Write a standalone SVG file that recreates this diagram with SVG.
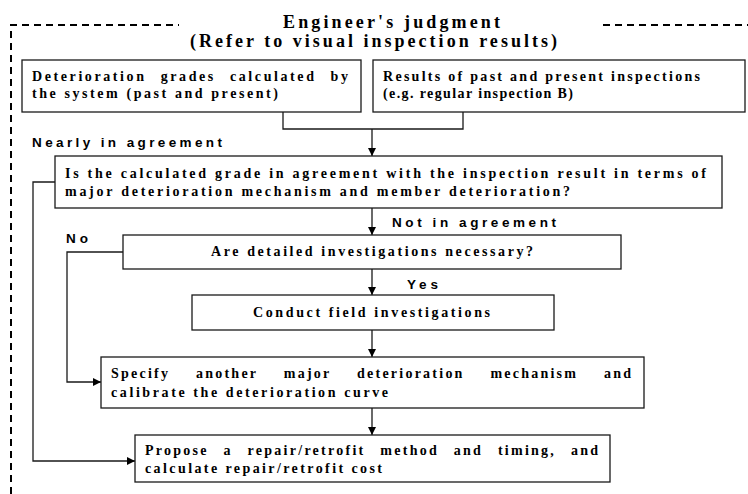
<svg xmlns="http://www.w3.org/2000/svg" width="748" height="494" viewBox="0 0 748 494">
<defs>
<style>
.box{fill:#fff;stroke:#1a1a1a;stroke-width:1.3}
.bt{font-family:"Liberation Serif","Times New Roman",serif;font-weight:bold;font-size:14px;fill:#000}
.tt{font-family:"Liberation Serif","Times New Roman",serif;font-weight:bold;font-size:18px;fill:#000}
.lb{font-family:"Liberation Sans",Arial,sans-serif;font-weight:bold;font-size:13.5px;fill:#000}
.cn{fill:none;stroke:#1a1a1a;stroke-width:1.3}
.dash{fill:none;stroke:#000;stroke-width:2;stroke-dasharray:7 5}
</style>
<marker id="ah" markerWidth="8" markerHeight="8" refX="8" refY="4" orient="auto" markerUnits="userSpaceOnUse"><path d="M0,0 L8,4 L0,8 z" fill="#000"/></marker>
</defs>
<rect width="748" height="494" fill="#fff"/>
<g id="frame">
<path class="dash" d="M11,494 V25 H179"/>
<path class="dash" d="M603,25 H748"/>
<text class="tt" x="283" y="28" textLength="217" lengthAdjust="spacing">Engineer's judgment</text>
<text class="tt" x="190" y="47" textLength="367" lengthAdjust="spacing">(Refer to visual inspection results)</text>
</g>
<g id="connectors">
<path class="cn" d="M283,112 V129 H463 V112"/>
<path class="cn" d="M372,129 V156" marker-end="url(#ah)"/>
<path class="cn" d="M372,208 V235" marker-end="url(#ah)"/>
<path class="cn" d="M372,269 V295" marker-end="url(#ah)"/>
<path class="cn" d="M372,330 V357" marker-end="url(#ah)"/>
<path class="cn" d="M372,408 V435" marker-end="url(#ah)"/>
<path class="cn" d="M123,252 H67 V382 H101" marker-end="url(#ah)"/>
<path class="cn" d="M55,182 H33 V461 H135" marker-end="url(#ah)"/>
<text class="lb" x="32" y="147" textLength="190" lengthAdjust="spacing">Nearly in agreement</text>
<text class="lb" x="392" y="227" textLength="164" lengthAdjust="spacing">Not in agreement</text>
<text class="lb" x="66" y="243" textLength="22" lengthAdjust="spacing">No</text>
<text class="lb" x="407" y="289" textLength="31" lengthAdjust="spacing">Yes</text>
</g>
<g id="n1">
<rect class="box" x="22" y="60" width="339" height="52"/>
<text class="bt" x="32" y="81" textLength="316" lengthAdjust="spacing" word-spacing="8">Deterioration grades calculated by</text>
<text class="bt" x="32" y="98" textLength="246" lengthAdjust="spacing">the system (past and present)</text>
</g>
<g id="n2">
<rect class="box" x="373" y="60" width="372" height="52"/>
<text class="bt" x="383" y="81" textLength="317" lengthAdjust="spacing">Results of past and present inspections</text>
<text class="bt" x="383" y="98" textLength="190" lengthAdjust="spacing">(e.g. regular inspection B)</text>
</g>
<g id="n3">
<rect class="box" x="55" y="156" width="667" height="52"/>
<text class="bt" x="65" y="178" textLength="641" lengthAdjust="spacing">Is the calculated grade in agreement with the inspection result in terms of</text>
<text class="bt" x="65" y="196" textLength="505" lengthAdjust="spacing">major deterioration mechanism and member deterioration?</text>
</g>
<g id="n4">
<rect class="box" x="123" y="235" width="498" height="34"/>
<text class="bt" x="372" y="256" text-anchor="middle" textLength="322" lengthAdjust="spacing">Are detailed investigations necessary?</text>
</g>
<g id="n5">
<rect class="box" x="192" y="295" width="362" height="35"/>
<text class="bt" x="253" y="317" textLength="237" lengthAdjust="spacing">Conduct field investigations</text>
</g>
<g id="n6">
<rect class="box" x="101" y="357" width="543" height="51"/>
<text class="bt" x="111" y="378" textLength="520" lengthAdjust="spacing" word-spacing="20">Specify another major deterioration mechanism and</text>
<text class="bt" x="111" y="397" textLength="277" lengthAdjust="spacing">calibrate the deterioration curve</text>
</g>
<g id="n7">
<rect class="box" x="135" y="435" width="475" height="47"/>
<text class="bt" x="145" y="455" textLength="453" lengthAdjust="spacing" word-spacing="9">Propose a repair/retrofit method and timing, and</text>
<text class="bt" x="145" y="473" textLength="237" lengthAdjust="spacing">calculate repair/retrofit cost</text>
</g>
</svg>
